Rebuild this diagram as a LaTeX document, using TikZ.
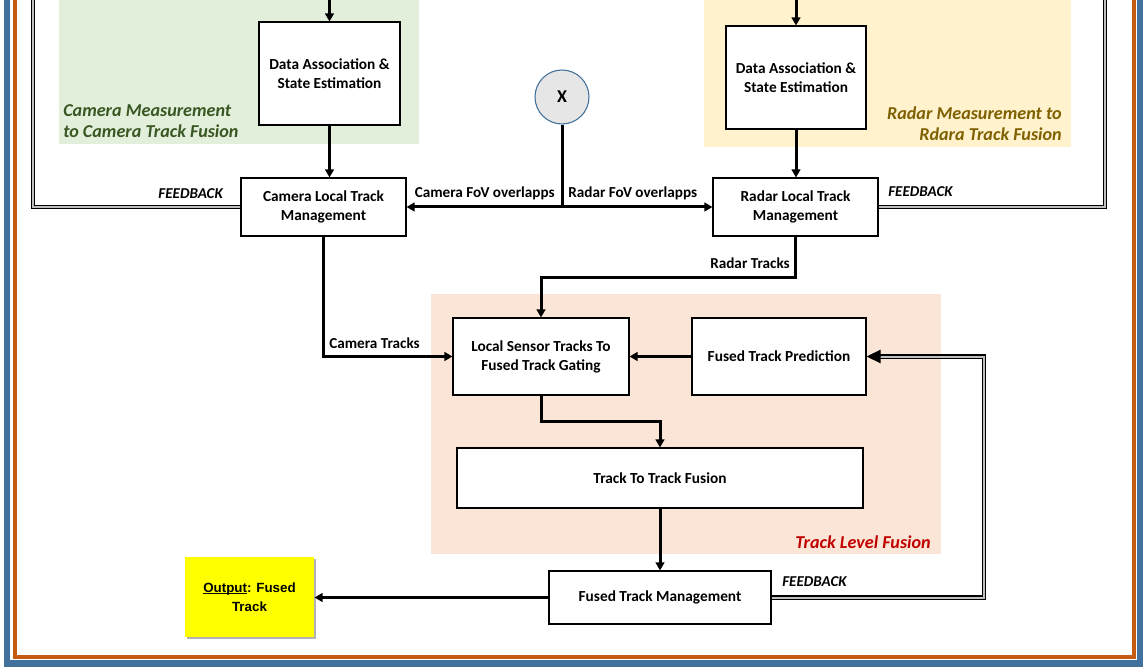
\documentclass[tikz,border=0pt]{standalone}
\usepackage{fontspec}
\setmainfont{Carlito}
\newfontfamily\arialf{Liberation Sans}
\usetikzlibrary{arrows.meta,shadows,calc}
\definecolor{bluec}{RGB}{65,113,156}
\definecolor{orangec}{RGB}{197,90,17}
\definecolor{greenfill}{RGB}{226,239,218}
\definecolor{greentext}{RGB}{56,87,35}
\definecolor{yelfill}{RGB}{255,242,204}
\definecolor{radartext}{RGB}{127,96,0}
\definecolor{peachfill}{RGB}{251,229,214}
\definecolor{redtext}{RGB}{192,0,0}
\definecolor{circfill}{RGB}{231,230,230}
\definecolor{outyellow}{RGB}{255,255,0}
\newcommand\ulout[1]{\setbox0\hbox{#1}\rlap{\rule[-1.6pt]{\wd0}{0.9pt}}\box0}
\begin{document}
\begin{tikzpicture}[x=0.75pt,y=-0.75pt,
  box/.style={draw=black, line width=0.8pt, fill=white, align=center, inner sep=0pt,
    font=\bfseries\fontsize{11.5}{14.3}\selectfont},
  sz/.style 2 args={minimum width=#1*0.75pt, minimum height=#2*0.75pt},
  lbl/.style={font=\bfseries\fontsize{11.4}{13}\selectfont, inner sep=0pt},
  fb/.style={font=\bfseries\itshape\fontsize{11.3}{12}\selectfont, inner sep=0pt},
  reg/.style={font=\bfseries\itshape\fontsize{13.6}{15.75}\selectfont, inner sep=0pt},
  conn/.style={line width=2.25pt},
  arr/.style={line width=2.25pt, -{Triangle[length=6pt,width=6.5pt]}},
  dbl/.style={draw=black, double=black!25, line width=0.8pt, double distance=1.5pt}
]
\useasboundingbox (0,0) rectangle (1146,670);
\clip (0,0) rectangle (1146,670);
\fill[white] (0,0) rectangle (1146,670);
% frame
\draw[bluec, line width=4.9pt] (7,-20) -- (7,663.5) -- (1140,663.5) -- (1140,-20);
\draw[orangec, line width=3pt] (15,-20) -- (15,656.5) -- (1133.5,656.5) -- (1133.5,-20);
% regions
\fill[greenfill] (59,-10) rectangle (419,144);
\fill[yelfill] (704,-10) rectangle (1071,147);
\fill[peachfill] (431,294) rectangle (941,554);
% region labels
\node[reg, text=greentext, align=left, anchor=west] (cml) at (63,121.5) {Camera Measurement\\to Camera Track Fusion};
\node[reg, text=radartext, align=right, anchor=east] (rml) at (1062,123.5) {Radar Measurement to\\Rdara Track Fusion};
\node[reg, text=redtext, anchor=east] (tlf) at (931,542) {Track Level Fusion};
% boxes
\node[box, sz={141}{103}] (cda) at (329.5,73.5) {Data Association \&\\State Estimation};
\node[box, sz={165}{58}] (cltm) at (323.5,207) {Camera Local Track\\Management};
\node[box, sz={140}{103}] (rda) at (796,77.5) {Data Association \&\\State Estimation};
\node[box, sz={165}{58}] (rltm) at (795.5,207) {Radar Local Track\\Management};
\node[circle, draw=bluec, line width=0.8pt, fill=circfill, minimum size=40.5pt, inner sep=0pt,
  font=\bfseries\fontsize{13.5}{15}\selectfont] (X) at (562,97) {X};
\node[box, sz={176}{77}] (gating) at (541,356.5) {Local Sensor Tracks To\\Fused Track Gating};
\node[box, sz={174}{77}] (ftp) at (779,356.5) {Fused Track Prediction};
\node[box, sz={406}{60}] (t2t) at (660,478) {Track To Track Fusion};
\node[box, sz={222}{53}] (ftm) at (660,597.5) {Fused Track Management};
\node[box, draw=none, fill=outyellow, sz={129}{80},
  drop shadow={shadow xshift=1.8pt, shadow yshift=-1.8pt, fill=black, opacity=0.3},
  font=\arialf\bfseries\fontsize{10}{14.3}\selectfont] (out) at (249.5,597) {\ulout{Output}: Fused\\Track};
% coordinates
\coordinate (ctop) at (329.5,-10);
\coordinate (rtop) at (796,-10);
\coordinate (rt) at (541,278);
\coordinate (gt) at (660,421);
\coordinate (fbl) at (33,-10);
\coordinate (fbr) at (1105,-10);
\coordinate (fbb) at (984,0);
% connectors
\draw[arr] (ctop) -- (cda.north);
\draw[arr] (rtop) -- (rda.north);
\draw[arr] (cda.south) -- (cda.south |- cltm.north);
\draw[arr] (rda.south) -- (rda.south |- rltm.north);
\draw[conn] (X.south) -- (X |- cltm.east);
\draw[arr] (X |- cltm.east) -- (cltm.east);
\draw[arr] (X |- rltm.west) -- (rltm.west);
\draw[arr] (cltm.south) |- (gating.west);
\draw[arr] (rltm.south) |- (rt) -- (gating.north);
\draw[arr] (ftp.west) -- (gating.east);
\draw[arr] (gating.south) |- (gt) -- (t2t.north);
\draw[arr] (t2t.south) -- (ftm.north);
\draw[arr] (ftm.west) -- (ftm.west -| out.east);
% feedback
\draw[dbl] (cltm.west) -| (fbl);
\draw[dbl] (rltm.east) -| (fbr);
\draw[dbl, -{Triangle[length=10.5pt,width=10pt]}] (ftm.east) -| (ftp.east -| fbb) -- (ftp.east);
% labels
\node[lbl, anchor=east] (cfov) at (555,193) {Camera FoV overlapps};
\node[lbl, anchor=west] (rfov) at (568,193) {Radar FoV overlapps};
\node[lbl, anchor=west] (ctl) at (329,343) {Camera Tracks};
\node[lbl, anchor=east] (rtl) at (790,263) {Radar Tracks};
\node[fb, anchor=east] (fb1) at (223,194) {FEEDBACK};
\node[fb, anchor=west] (fb2) at (888,192) {FEEDBACK};
\node[fb, anchor=west] (fb3) at (782,582) {FEEDBACK};
\end{tikzpicture}
\end{document}
